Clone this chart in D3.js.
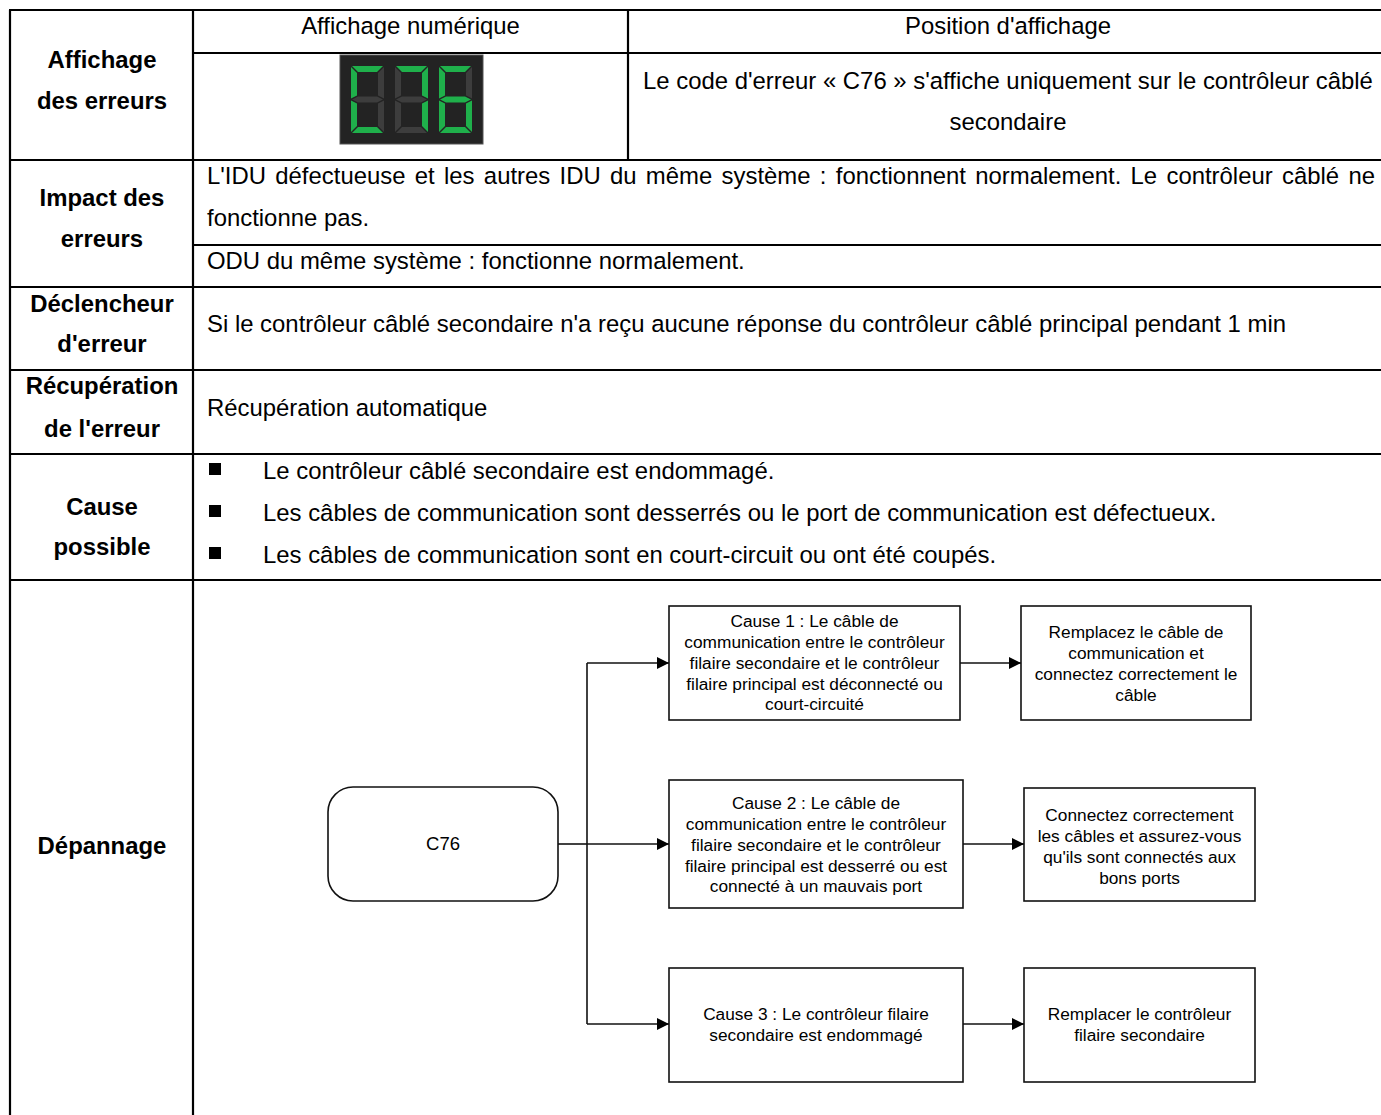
<!DOCTYPE html>
<html>
<head>
<meta charset="utf-8">
<script src="https://cdn.jsdelivr.net/npm/d3@7"></script>
<style>
  html, body { margin: 0; padding: 0; background: #fff; }
  svg { display: block; }
</style>
</head>
<body>
<script>
// ---------------- DATA ----------------
const rowLabels = [
  ["Affichage", "des erreurs"],
  ["Impact des", "erreurs"],
  ["Déclencheur", "d'erreur"],
  ["Récupération", "de l'erreur"],
  ["Cause", "possible"],
  ["Dépannage"]
];
const headerTexts = ["Affichage numérique", "Position d'affichage"];
const displayCode = ["C", "7", "6"];
const positionText = [
  "Le code d'erreur « C76 » s'affiche uniquement sur le contrôleur câblé",
  "secondaire"
];
const impactTexts = [
  "L'IDU défectueuse et les autres IDU du même système : fonctionnent normalement. Le contrôleur câblé ne",
  "fonctionne pas.",
  "ODU du même système : fonctionne normalement."
];
const triggerText = "Si le contrôleur câblé secondaire n'a reçu aucune réponse du contrôleur câblé principal pendant 1 min";
const recoveryText = "Récupération automatique";
const causeItems = [
  "Le contrôleur câblé secondaire est endommagé.",
  "Les câbles de communication sont desserrés ou le port de communication est défectueux.",
  "Les câbles de communication sont en court-circuit ou ont été coupés."
];
const flowRoot = "C76";
const flowCauses = [
  ["Cause 1 : Le câble de", "communication entre le contrôleur", "filaire secondaire et le contrôleur", "filaire principal est déconnecté ou", "court-circuité"],
  ["Cause 2 : Le câble de", "communication entre le contrôleur", "filaire secondaire et le contrôleur", "filaire principal est desserré ou est", "connecté à un mauvais port"],
  ["Cause 3 : Le contrôleur filaire", "secondaire est endommagé"]
];
const flowRemedies = [
  ["Remplacez le câble de", "communication et", "connectez correctement le", "câble"],
  ["Connectez correctement", "les câbles et assurez-vous", "qu'ils sont connectés aux", "bons ports"],
  ["Remplacer le contrôleur", "filaire secondaire"]
];
// segments lit for each displayed character (7-segment)
const segmentMap = { "C": "adef", "7": "abc", "6": "acdefg" };

// ---------------- LAYOUT ----------------
const W = 1381, H = 1115;
const FONT = "'Liberation Sans', Arial, Helvetica, sans-serif";
const BODY_FS = 23.9, FLOW_FS = 17.3;
const tableLeft = 10, colDiv = 193, subDiv = 628, tableRight = 1388;
const rowLines = [10, 160, 287, 370, 454, 580, 1140];
const headerLine = 53, impactSubLine = 245;
const labelCenters = [[59, 100], [197, 238], [303, 343], [385, 428], [506, 546], [845]];

const svg = d3.select("body").append("svg")
  .attr("width", W).attr("height", H)
  .style("font-family", FONT);

const gLines = svg.append("g").attr("stroke", "#000").attr("stroke-width", 2.2).attr("fill", "none");

gLines.selectAll("line.row").data(rowLines.slice(0, -1)).join("line")
  .attr("x1", tableLeft - 1).attr("x2", tableRight)
  .attr("y1", d => d).attr("y2", d => d);
gLines.append("line").attr("x1", colDiv).attr("x2", tableRight).attr("y1", headerLine).attr("y2", headerLine);
gLines.append("line").attr("x1", colDiv).attr("x2", tableRight).attr("y1", impactSubLine).attr("y2", impactSubLine);
gLines.append("line").attr("x1", tableLeft).attr("x2", tableLeft).attr("y1", rowLines[0]).attr("y2", H + 5);
gLines.append("line").attr("x1", colDiv).attr("x2", colDiv).attr("y1", rowLines[0]).attr("y2", H + 5);
gLines.append("line").attr("x1", subDiv).attr("x2", subDiv).attr("y1", rowLines[0]).attr("y2", rowLines[1]);

// row labels
const labelX = (tableLeft + colDiv) / 2 + 0.5;
const gLab = svg.append("g").attr("font-weight", "bold").attr("font-size", BODY_FS).attr("text-anchor", "middle").attr("fill", "#000");
rowLabels.forEach((lines, i) => {
  gLab.selectAll(null).data(lines).join("text")
    .attr("x", labelX)
    .attr("y", (d, j) => labelCenters[i][j])
    .attr("dy", "0.36em")
    .text(d => d);
});

// body text
const gTxt = svg.append("g").attr("font-size", BODY_FS).attr("fill", "#000");
const textX = 207;
gTxt.selectAll(null).data(headerTexts).join("text")
  .attr("x", (d, i) => i === 0 ? (colDiv + subDiv) / 2 : (subDiv + tableRight) / 2)
  .attr("y", 25).attr("dy", "0.36em").attr("text-anchor", "middle").text(d => d);

gTxt.selectAll(null).data(positionText).join("text")
  .attr("x", (subDiv + tableRight) / 2)
  .attr("y", (d, i) => 80 + i * 41).attr("dy", "0.36em").attr("text-anchor", "middle").text(d => d);

const impactY = [175, 217, 260];
gTxt.selectAll(null).data(impactTexts).join("text")
  .attr("x", textX).attr("y", (d, i) => impactY[i]).attr("dy", "0.36em")
  .text(d => d)
  .each(function (d, i) {
    if (i === 0) {
      const natural = this.getComputedTextLength();
      const spaces = (d.match(/ /g) || []).length;
      const extra = (1375 - textX - natural) / spaces;
      if (extra > 0) d3.select(this).attr("word-spacing", extra);
    }
  });

gTxt.append("text").attr("x", textX).attr("y", 323).attr("dy", "0.36em").text(triggerText);
gTxt.append("text").attr("x", textX).attr("y", 407).attr("dy", "0.36em").text(recoveryText);

const causeY = d3.scalePoint().domain(d3.range(causeItems.length)).range([470, 554]);
gTxt.selectAll(null).data(causeItems).join("text")
  .attr("x", 263).attr("y", (d, i) => causeY(i)).attr("dy", "0.36em").text(d => d);
svg.append("g").selectAll("rect").data(causeItems).join("rect")
  .attr("x", 209).attr("y", (d, i) => causeY(i) - 7).attr("width", 12).attr("height", 12).attr("fill", "#000");

// ---------------- LED DISPLAY ----------------
const led = svg.append("g");
led.append("rect").attr("x", 340).attr("y", 55).attr("width", 143).attr("height", 89)
  .attr("fill", "#232323").attr("stroke", "#555").attr("stroke-width", 1);
const digitX = d3.scalePoint().domain(d3.range(displayCode.length)).range([351, 439]);
const dw = 33, dh = 67, t = 6, g = 1;
function segPolys(x0, y0) {
  const ym = y0 + dh / 2;
  return {
    a: [[x0 + g, y0], [x0 + dw - g, y0], [x0 + dw - t - g, y0 + t], [x0 + t + g, y0 + t]],
    d: [[x0 + g, y0 + dh], [x0 + dw - g, y0 + dh], [x0 + dw - t - g, y0 + dh - t], [x0 + t + g, y0 + dh - t]],
    f: [[x0, y0 + g], [x0 + t, y0 + t + g], [x0 + t, ym - t / 2 - g], [x0, ym - g]],
    e: [[x0, ym + g], [x0 + t, ym + t / 2 + g], [x0 + t, y0 + dh - t - g], [x0, y0 + dh - g]],
    b: [[x0 + dw, y0 + g], [x0 + dw - t, y0 + t + g], [x0 + dw - t, ym - t / 2 - g], [x0 + dw, ym - g]],
    c: [[x0 + dw, ym + g], [x0 + dw - t, ym + t / 2 + g], [x0 + dw - t, y0 + dh - t - g], [x0 + dw, y0 + dh - g]],
    g: [[x0 + g, ym], [x0 + t + g, ym - t / 2], [x0 + dw - t - g, ym - t / 2], [x0 + dw - g, ym], [x0 + dw - t - g, ym + t / 2], [x0 + t + g, ym + t / 2]]
  };
}
displayCode.forEach((ch, i) => {
  const polys = segPolys(digitX(i), 66);
  const lit = segmentMap[ch] || "";
  led.selectAll(null).data(Object.keys(polys)).join("polygon")
    .attr("points", k => polys[k].map(p => p.join(",")).join(" "))
    .attr("fill", k => lit.includes(k) ? "#1fb04b" : "#3d3d3d");
});

// ---------------- FLOWCHART ----------------
const fc = svg.append("g");
const defs = svg.append("defs");
defs.append("marker").attr("id", "arr").attr("viewBox", "0 0 10 10")
  .attr("refX", 10).attr("refY", 5).attr("markerWidth", 14).attr("markerHeight", 12)
  .attr("markerUnits", "userSpaceOnUse").attr("orient", "auto")
  .append("path").attr("d", "M0,0 L10,5 L0,10 Z").attr("fill", "#000");

const branchY = d3.scalePoint().domain(d3.range(flowCauses.length)).range([663, 1024]);
const causeBoxes = [
  { x: 669, y: 606, w: 291, h: 114 },
  { x: 669, y: 780, w: 294, h: 128 },
  { x: 669, y: 968, w: 294, h: 114 }
];
const remedyBoxes = [
  { x: 1021, y: 606, w: 230, h: 114 },
  { x: 1024, y: 788, w: 231, h: 113 },
  { x: 1024, y: 968, w: 231, h: 114 }
];
const rootBox = { x: 328, y: 787, w: 230, h: 114 };
const trunkX = 587;
const fcStroke = "#111", fcW = 1.6;

fc.append("rect").attr("x", rootBox.x).attr("y", rootBox.y).attr("width", rootBox.w).attr("height", rootBox.h)
  .attr("rx", 25).attr("ry", 25).attr("fill", "#fff").attr("stroke", fcStroke).attr("stroke-width", fcW);
fc.append("text").attr("x", rootBox.x + rootBox.w / 2).attr("y", 843).attr("dy", "0.36em")
  .attr("text-anchor", "middle").attr("font-size", 18.5).text(flowRoot);

fc.append("line").attr("x1", trunkX).attr("x2", trunkX)
  .attr("y1", branchY(0)).attr("y2", branchY(flowCauses.length - 1))
  .attr("stroke", fcStroke).attr("stroke-width", fcW);
fc.append("line").attr("x1", rootBox.x + rootBox.w).attr("x2", trunkX).attr("y1", 844).attr("y2", 844)
  .attr("stroke", fcStroke).attr("stroke-width", fcW);

const causeTextTops = [621, 803, 1014];
const remedyTextTops = [632, 815, 1014];
const lh = 20.8;

flowCauses.forEach((lines, i) => {
  const y = i === 1 ? 844 : branchY(i);
  const cb = causeBoxes[i], rb = remedyBoxes[i];
  fc.append("line").attr("x1", trunkX).attr("x2", cb.x).attr("y1", y).attr("y2", y)
    .attr("stroke", fcStroke).attr("stroke-width", fcW).attr("marker-end", "url(#arr)");
  fc.append("rect").attr("x", cb.x).attr("y", cb.y).attr("width", cb.w).attr("height", cb.h)
    .attr("fill", "#fff").attr("stroke", fcStroke).attr("stroke-width", fcW);
  fc.selectAll(null).data(lines).join("text")
    .attr("x", cb.x + cb.w / 2).attr("y", (d, j) => causeTextTops[i] + j * lh).attr("dy", "0.36em")
    .attr("text-anchor", "middle").attr("font-size", FLOW_FS).text(d => d);
  fc.append("line").attr("x1", cb.x + cb.w).attr("x2", rb.x).attr("y1", y).attr("y2", y)
    .attr("stroke", fcStroke).attr("stroke-width", fcW).attr("marker-end", "url(#arr)");
  fc.append("rect").attr("x", rb.x).attr("y", rb.y).attr("width", rb.w).attr("height", rb.h)
    .attr("fill", "#fff").attr("stroke", fcStroke).attr("stroke-width", fcW);
  fc.selectAll(null).data(flowRemedies[i]).join("text")
    .attr("x", rb.x + rb.w / 2).attr("y", (d, j) => remedyTextTops[i] + j * lh).attr("dy", "0.36em")
    .attr("text-anchor", "middle").attr("font-size", FLOW_FS).text(d => d);
});
</script>
</body>
</html>
